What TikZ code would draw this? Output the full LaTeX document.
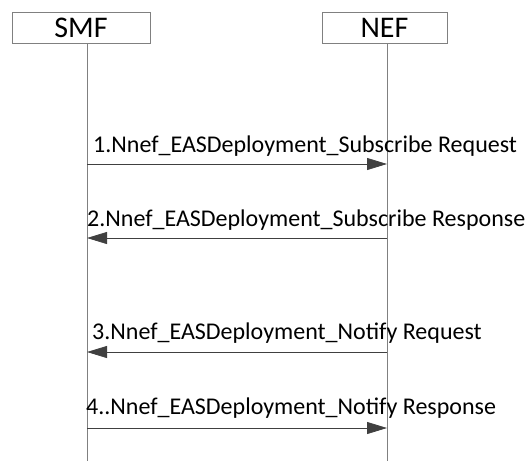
\documentclass[tikz,border=0pt]{standalone}
\usepackage{fontspec}
\setmainfont{Carlito}
\usetikzlibrary{positioning,arrows.meta}
\definecolor{lifegray}{HTML}{808080}
\definecolor{msggray}{HTML}{404040}
\begin{document}
\begin{tikzpicture}[x=1pt,y=-1pt,
   entity/.style={draw=lifegray,line width=0.8pt,minimum height=31pt,inner sep=0pt,font=\fontsize{30}{32}\selectfont},
   lifeline/.style={draw=lifegray,line width=0.8pt},
   msg/.style={draw=msggray,line width=0.8pt,-{Triangle[length=20pt,width=12pt]}},
   msglabel/.style={anchor=base west,inner sep=0pt,font=\fontsize{24}{26}\selectfont}]
   \useasboundingbox (0,0) rectangle (529,461);
   \node[entity,minimum width=138pt] (smf) at (81,27.5) {SMF};
   \node[entity,minimum width=125pt] (nef) at (384.5,27.5) {NEF};
   % lifelines
   \coordinate (smftop) at (87,43);
   \coordinate (smfend) at (87,461);
   \coordinate (neftop) at (387,43);
   \coordinate (nefend) at (387,461);
   \path[lifeline] (smftop) -- (smfend);
   \path[lifeline] (neftop) -- (nefend);
   % messages
   \coordinate (s1) at (87,164);  \coordinate (n1) at (387,164);
   \coordinate (s2) at (87,238);  \coordinate (n2) at (387,238);
   \coordinate (s3) at (87,352);  \coordinate (n3) at (387,352);
   \coordinate (s4) at (87,428);  \coordinate (n4) at (387,428);
   \path[msg] (s1) -- (n1);
   \path[msg] (n2) -- (s2);
   \path[msg] (n3) -- (s3);
   \path[msg] (s4) -- (n4);
   \node[msglabel] (req1) at (93,152) {1.Nnef\_EASDeployment\_Subscribe Request};
   \node[msglabel] (rsp2) at (87,226) {2.Nnef\_EASDeployment\_Subscribe Response};
   \node[msglabel] (req3) at (92,339) {3.Nnef\_EASDeployment\_Notify Request};
   \node[msglabel] (rsp4) at (86,414) {4..Nnef\_EASDeployment\_Notify Response};
\end{tikzpicture}
\end{document}
